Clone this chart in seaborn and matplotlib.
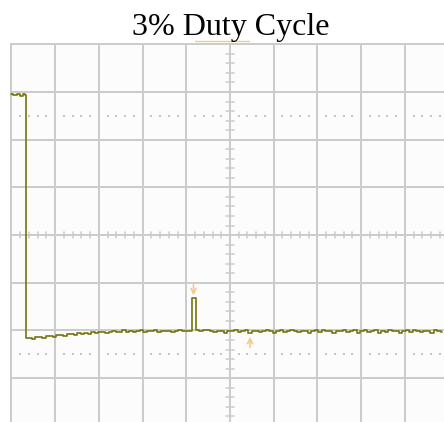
import numpy as np
import pandas as pd
import matplotlib
matplotlib.use("Agg")
import matplotlib.pyplot as plt
import seaborn as sns

sns.set_theme(style="white")
plt.rcParams['font.family'] = ['Liberation Serif', 'DejaVu Serif']

TITLE = "3% Duty Cycle"

# Screen geometry in divisions
X_DIVS = 5          # half-width of the graticule
Y_DIVS = 4          # half-height of the graticule
LIMIT_DIV = 2.5     # dotted reference levels (±)

# High part of the pulse (time in div, level in div)
t_high = [-5.00, -4.92, -4.84, -4.76, -4.70, -4.67]
v_high = [2.95, 2.93, 2.96, 2.92, 2.95, 2.94]

# Low part after the falling edge, one sample every 0.08 div starting at -4.66
t_low_start = -4.66
t_low_step = 0.08
v_low_cdiv = [
    -216, -215, -217, -214, -213, -215, -212, -211, -213, -210,
    -209, -211, -208, -207, -209, -206, -207, -205, -207, -204,
    -205, -203, -203, -206, -203, -201, -204, -203, -200, -203,
    -202, -204, -202, -200, -203, -202, -202, -200, -204, -202,
    -201, -202, -204, -202, -200, -202, -202, -201, -133, -200,
    -202, -199, -199, -202, -204, -201, -202, -205, -201, -202,
    -200, -203, -202, -199, -206, -202, -201, -204, -202, -200,
    -202, -205, -202, -200, -203, -202, -199, -202, -204, -201,
    -202, -206, -202, -200, -203, -200, -202, -202, -205, -201,
    -202, -199, -204, -202, -200, -205, -202, -200, -203, -202,
    -200, -206, -202, -204, -200, -202, -201, -205, -202, -200,
    -203, -199, -202, -204, -201, -202, -205, -200, -202, -203,
]

# Cursor markers (time in div)
trig_t = -0.835
cursor_t = 0.458

t_low = t_low_start + t_low_step * np.arange(len(v_low_cdiv))
v_low = np.array(v_low_cdiv) / 100.0

trace = pd.DataFrame({
    "t": np.concatenate([t_high, t_low]),
    "v": np.concatenate([v_high, v_low]),
})

fig = plt.figure(figsize=(4.44, 4.22), dpi=100)
fig.patch.set_facecolor("white")
ax = fig.add_axes([0, 0, 1, 1])
ax.set_xlim(-5.263, 4.897)
ax.set_ylim(-3.92, 4.93)
ax.axis("off")

# graticule background
ax.add_patch(plt.Rectangle((-X_DIVS, -Y_DIVS), 2 * X_DIVS, 2 * Y_DIVS,
                           facecolor="#fcfcfc", edgecolor="none", zorder=0))

grid_c = "#cbcbcb"
for xv in range(-X_DIVS, X_DIVS + 1):
    ax.plot([xv, xv], [-Y_DIVS, Y_DIVS], color=grid_c, lw=1.4, zorder=1)
for yv in range(-Y_DIVS, Y_DIVS + 1):
    ax.plot([-X_DIVS, X_DIVS], [yv, yv], color=grid_c, lw=1.4, zorder=1)

# minor ticks on centre axes
for k in range(-Y_DIVS * 5, Y_DIVS * 5 + 1):
    if k % 5:
        ax.plot([-0.1, 0.1], [k * 0.2, k * 0.2], color=grid_c, lw=1.1, zorder=1)
for k in range(-X_DIVS * 5, X_DIVS * 5 + 1):
    if k % 5:
        ax.plot([k * 0.2, k * 0.2], [-0.07, 0.07], color=grid_c, lw=1.1, zorder=1)

# dotted reference levels
dots_x = [k * 0.2 for k in range(-X_DIVS * 5, X_DIVS * 5 + 1) if k % 5]
for lvl in (LIMIT_DIV, -LIMIT_DIV):
    ax.scatter(dots_x, [lvl] * len(dots_x), s=1.2, color="#c4c4c4",
               marker="s", linewidths=0, zorder=1)

# signal trace
sns.lineplot(data=trace, x="t", y="v", ax=ax, color="#75750e", lw=1.2,
             sort=False, estimator=None, drawstyle="steps-mid", zorder=3)
ax.set_xlabel("")
ax.set_ylabel("")

# cursor markers
mark_c = "#f6c88e"
ax.annotate("", xy=(trig_t, -1.32), xytext=(trig_t, -0.985),
            arrowprops=dict(arrowstyle="->", color=mark_c, lw=1.2,
                            mutation_scale=9), zorder=4)
ax.annotate("", xy=(cursor_t, -2.075), xytext=(cursor_t, -2.41),
            arrowprops=dict(arrowstyle="->", color=mark_c, lw=1.2,
                            mutation_scale=9), zorder=4)
ax.plot([trig_t + 0.03, cursor_t - 0.02], [4.07, 4.07], color=mark_c,
        lw=1.0, zorder=4)

fig.text(0.52, 0.918, TITLE, ha="center", va="baseline", fontsize=23,
         color="black")

fig.savefig("out.png", dpi=100)
